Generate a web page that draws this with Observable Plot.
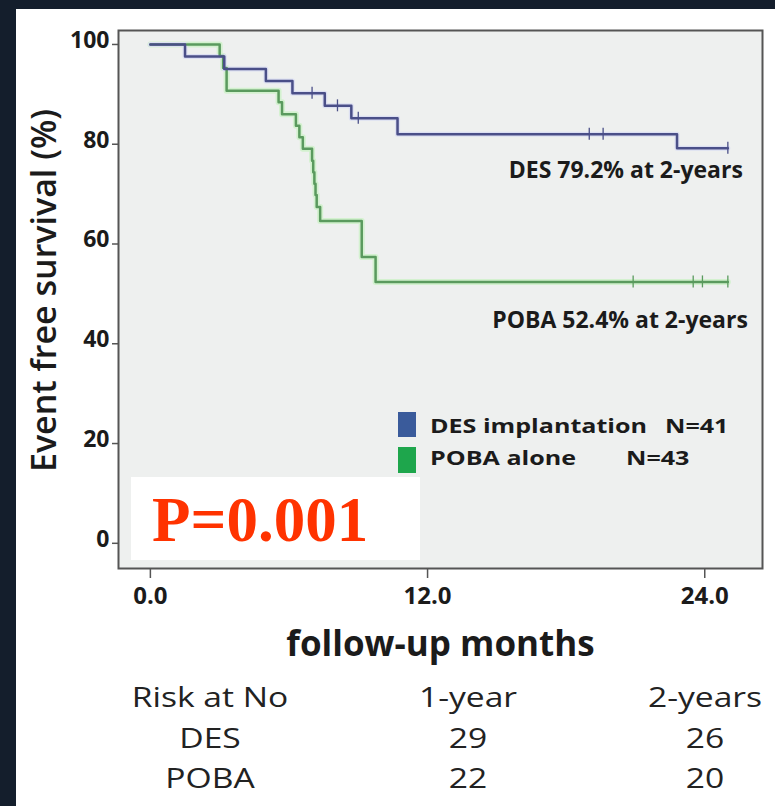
<!DOCTYPE html>
<html><head><meta charset="utf-8">
<script src="https://cdn.jsdelivr.net/npm/d3@7"></script>
<script src="https://cdn.jsdelivr.net/npm/@observablehq/plot@0.6"></script>
<style>
html,body{margin:0;padding:0;background:#141e2c;}
#wrap{position:relative;width:775px;height:806px;background:#141e2c;overflow:hidden;font-family:"Open Sans",sans-serif;color:#1b1b1b}
#panel{position:absolute;left:16px;top:9px;right:0;bottom:0;background:#fff}
#chart{position:absolute;left:0;top:0}
.abs{position:absolute;white-space:pre;line-height:1}
</style></head><body>
<div id="wrap"><div id="panel"></div><div id="chart"></div><div id="overlay"></div></div>
<script>
// ---- data ----
const yTicks = [0, 20, 40, 60, 80, 100];
const xTicks = [0, 12, 24];
const xTickLabels = ["0.0", "12.0", "24.0"];
const desTime = [0, 1.5, 3.2, 5.0, 6.15, 7.55, 8.7, 10.7, 22.8, 25.0];
const desSurv = [100, 97.6, 95.1, 92.7, 90.2, 87.7, 85.2, 82.0, 79.2, 79.2];
const desCensorTime = [7.0, 8.1, 9.0, 19.0, 19.6, 25.0];
const pobaTime = [0, 3.0, 3.15, 3.3, 5.55, 5.7, 6.3, 6.45, 6.6, 7.0, 7.05, 7.1, 7.15, 7.2, 7.35, 9.15, 9.75, 25.0];
const pobaSurv = [100, 97.7, 95.3, 90.7, 88.4, 86.0, 83.7, 81.4, 79.1, 76.7, 74.4, 72.1, 69.8, 67.4, 64.6, 57.4, 52.4, 52.4];
const pobaCensorTime = [20.9, 23.5, 23.9, 25.0];
const groupNames = ["DES implantation", "POBA alone"];
const groupN = ["N=41", "N=43"];
const endLabels = ["DES 79.2% at 2-years", "POBA 52.4% at 2-years"];
const xTitle = "follow-up months";
const yTitle = "Event free survival (%)";
const pText = "P=0.001";
const riskHeader = ["Risk at No", "1-year", "2-years"];
const riskGroups = ["DES", "POBA"];
const riskDES = [29, 26];
const riskPOBA = [22, 20];

// ---- build ----
const des = desTime.map((t, i) => ({t, s: desSurv[i]}));
const poba = pobaTime.map((t, i) => ({t, s: pobaSurv[i]}));
function survAt(data, t) { let s = data[0].s; for (const d of data) if (d.t <= t) s = d.s; return s; }
const desCens = desCensorTime.map(t => ({t, s: survAt(des, t)}));
const pobaCens = pobaCensorTime.map(t => ({t, s: survAt(poba, t)}));
const blue = "#4a4f88", green = "#5a9a5e", ink = "#1b1b1b";
const desEnd = des[des.length - 1], pobaEnd = poba[poba.length - 1];

const plot = Plot.plot({
  width: 775, height: 690,
  marginLeft: 118, marginRight: 13, marginTop: 30, marginBottom: 122,
  x: {domain: [-1.38, 26.5], axis: null, label: null},
  y: {domain: [-5.05, 102.8], axis: null, label: null},
  style: {background: "transparent", fontFamily: "Open Sans"},
  marks: [
    Plot.frame({fill: "#eef0ef", stroke: "none"}),
    Plot.line(poba, {x: "t", y: "s", curve: "step-after", stroke: "#d3f1cf", strokeWidth: 6}),
    Plot.line(des, {x: "t", y: "s", curve: "step-after", stroke: "#dcdff2", strokeWidth: 5}),
    Plot.line(poba, {x: "t", y: "s", curve: "step-after", stroke: green, strokeWidth: 2.5}),
    Plot.line(des, {x: "t", y: "s", curve: "step-after", stroke: blue, strokeWidth: 2.5}),
    Plot.ruleX(desCens, {x: "t", y1: d => d.s - 1.2, y2: d => d.s + 1.2, stroke: blue, strokeWidth: 1.3}),
    Plot.ruleX(pobaCens, {x: "t", y1: d => d.s - 1.2, y2: d => d.s + 1.2, stroke: green, strokeWidth: 1.3}),
    Plot.frame({stroke: "#555", strokeWidth: 2}),
    Plot.axisY({ticks: yTicks, tickSize: 6, tickFormat: () => "", stroke: "#555", strokeWidth: 1.5, label: null}),
    Plot.axisX({ticks: xTicks, tickSize: 10, tickFormat: () => "", stroke: "#555", strokeWidth: 1.5, label: null}),
    Plot.text(yTicks, {y: d => d, text: d => String(d), frameAnchor: "left", dx: -9, dy: -4, textAnchor: "end",
      fontSize: 23, fontWeight: "bold", fill: ink, ariaLabel: "ytick"}),
    Plot.text(xTicks, {x: d => d, text: (d, i) => xTickLabels[i], frameAnchor: "bottom", dy: 35,
      fontSize: 24, fontWeight: "bold", fill: ink, ariaLabel: "xtick"}),
    Plot.text([xTitle], {text: d => d, frameAnchor: "bottom", dy: 87, fontSize: 35, fontWeight: "bold", fill: ink, ariaLabel: "xtitle"}),
    Plot.text([yTitle], {text: d => d, frameAnchor: "left", textAnchor: "middle", dx: -73, dy: -9, rotate: -90,
      fontSize: 34, fontWeight: 600, fill: ink, ariaLabel: "ytitle"}),
    Plot.text([endLabels[0]], {x: () => desEnd.t, y: () => desEnd.s, text: d => d, textAnchor: "end", dx: 15, dy: 22,
      fontSize: 23, fontWeight: "bold", fill: ink, ariaLabel: "endlab"}),
    Plot.text([endLabels[1]], {x: () => pobaEnd.t, y: () => pobaEnd.s, text: d => d, textAnchor: "end", dx: 20, dy: 39,
      fontSize: 23, fontWeight: "bold", fill: ink, ariaLabel: "endlab"})
  ]
});
document.getElementById("chart").appendChild(plot);

function stretch(label, k) {
  plot.querySelectorAll(`g[aria-label="${label}"] text`).forEach(t => {
    const w = t.getComputedTextLength();
    t.setAttribute("textLength", w * k);
    t.setAttribute("lengthAdjust", "spacingAndGlyphs");
  });
}
stretch("ytick", 1.35); stretch("xtick", 1.5); stretch("xtitle", 1.45); stretch("endlab", 1.48); stretch("ytitle", 1.16);

// ---- overlays: legend, p-value box, risk table ----
const ov = document.getElementById("overlay");
function add(html, style) { const d = document.createElement("div"); d.className = "abs"; d.textContent = html; Object.assign(d.style, style); ov.appendChild(d); return d; }
add("", {left: "398px", top: "412px", width: "18px", height: "25px", background: "#3a5b9b"});
add("", {left: "398px", top: "447px", width: "18px", height: "26px", background: "#1ea64c"});
const legTop = [417, 449], nLeft = [665, 626];
groupNames.forEach((g, i) => {
  add(g, {left: "430px", top: legTop[i] + "px", fontSize: "19px", fontWeight: "bold", transform: "scaleX(1.32)", transformOrigin: "0 0"});
  add(groupN[i], {left: nLeft[i] + "px", top: legTop[i] + "px", fontSize: "19px", fontWeight: "bold", transform: "scaleX(1.32)", transformOrigin: "0 0"});
});
add("", {left: "131px", top: "477px", width: "289px", height: "83px", background: "#fff"});
add(pText, {left: "152px", top: "489px", fontFamily: "'Liberation Serif', serif", fontWeight: "bold", fontSize: "63px", color: "#ff3300"});
const colX = [210, 468, 705], rowY = [697, 738, 778];
const rows = [riskHeader, [riskGroups[0], ...riskDES.map(String)], [riskGroups[1], ...riskPOBA.map(String)]];
rows.forEach((r, ri) => r.forEach((txt, ci) => {
  add(txt, {left: colX[ci] + "px", top: (rowY[ri] - 15) + "px", fontSize: "28px", color: "#222",
    transform: "translateX(-50%) scaleX(1.2)"});
}));
</script>
</body></html>
